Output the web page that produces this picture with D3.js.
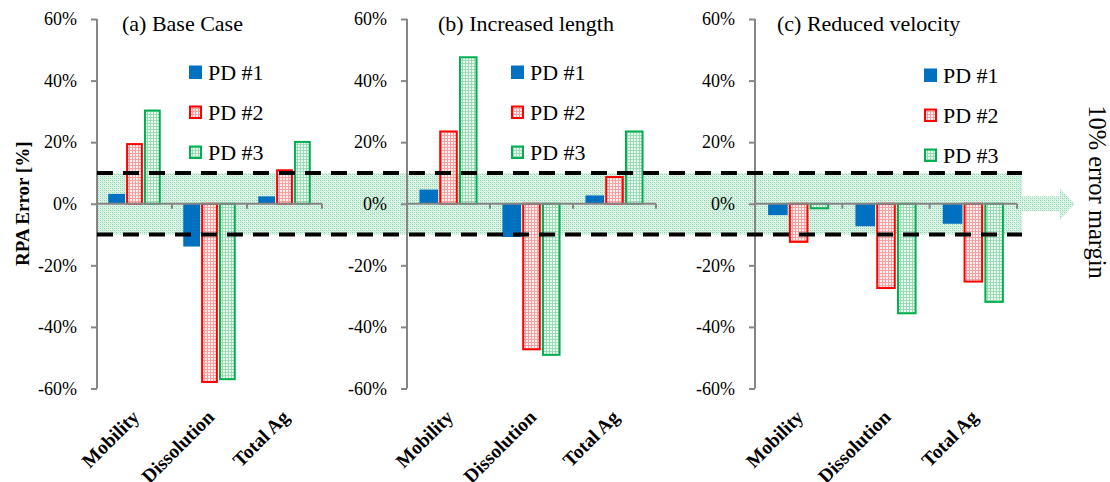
<!DOCTYPE html>
<html>
<head>
<meta charset="utf-8">
<script src="https://cdn.jsdelivr.net/npm/d3@7"></script>
<style>
  html, body { margin: 0; padding: 0; background: #fff; }
  svg { display: block; }
</style>
</head>
<body>
<svg id="chart" width="1110" height="482"></svg>
<script>
// ---- data -------------------------------------------------------------
const categories = ["Mobility", "Dissolution", "Total Ag"];
const seriesNames = ["PD #1", "PD #2", "PD #3"];
const panelTitles = ["(a) Base Case", "(b) Increased length", "(c) Reduced velocity"];

// RPA error [%] per series, in category order
const baseCase = {
  "PD #1": [3.2, -13.9, 2.4],
  "PD #2": [19.7, -58.2, 11.2],
  "PD #3": [30.6, -57.3, 20.4]
};
const increasedLength = {
  "PD #1": [4.6, -10.8, 2.7],
  "PD #2": [23.8, -47.6, 9.0],
  "PD #3": [47.9, -49.4, 23.8]
};
const reducedVelocity = {
  "PD #1": [-3.7, -7.3, -6.5],
  "PD #2": [-12.7, -27.7, -25.6],
  "PD #3": [-1.8, -35.9, -32.2]
};
const yTicks = [-60, -40, -20, 0, 20, 40, 60];
const errorMargin = 10;
const marginLabel = "10% error margin";
const yTitle = "RPA Error [%]";

// ---- layout -----------------------------------------------------------
const SERIF = '"Liberation Serif", "Times New Roman", serif';
const panels = [
  { title: panelTitles[0], data: baseCase,        x0: 97,  x1: 322,  titleX: 122, legendX: 189, legendY: 72 },
  { title: panelTitles[1], data: increasedLength, x0: 407, x1: 656,  titleX: 438, legendX: 511, legendY: 72 },
  { title: panelTitles[2], data: reducedVelocity, x0: 755, x1: 1017, titleX: 777, legendX: 924, legendY: 75 }
];

const svg = d3.select("#chart");
const y = d3.scaleLinear().domain([-60, 60]).range([388.5, 19]);
const axisGrey = "#868686";

const fills = { "PD #1": "#0070C0", "PD #2": "url(#gridRed)", "PD #3": "url(#gridGreen)" };
const strokes = { "PD #1": "none", "PD #2": "#FF0000", "PD #3": "#00B050" };

function label(sel, size, weight) {
  return sel.attr("font-family", SERIF).style("font-family", SERIF)
    .style("font-size", size + "px").style("font-weight", weight || "normal")
    .attr("fill", "#000");
}

// ---- patterns ---------------------------------------------------------
const defs = svg.append("defs");
function gridPattern(id, bg, line) {
  const p = defs.append("pattern").attr("id", id)
    .attr("patternUnits", "userSpaceOnUse").attr("width", 3).attr("height", 3);
  p.append("rect").attr("width", 3).attr("height", 3).attr("fill", bg);
  p.append("rect").attr("width", 3).attr("height", 1).attr("fill", line);
  p.append("rect").attr("width", 1).attr("height", 3).attr("fill", line);
}
gridPattern("gridRed", "#fff1f1", "#f7a0a0");
gridPattern("gridGreen", "#eaf8f0", "#9adbb6");

const dots = defs.append("pattern").attr("id", "bandDots")
  .attr("patternUnits", "userSpaceOnUse").attr("width", 4).attr("height", 4);
dots.append("rect").attr("width", 4).attr("height", 4).attr("fill", "#e0f4e9");
dots.append("rect").attr("width", 1).attr("height", 1).attr("fill", "#86d5aa");
dots.append("rect").attr("x", 2).attr("y", 0).attr("width", 1).attr("height", 1).attr("fill", "#a3dfbf");
dots.append("rect").attr("x", 0).attr("y", 2).attr("width", 1).attr("height", 1).attr("fill", "#a3dfbf");
dots.append("rect").attr("x", 2).attr("y", 2).attr("width", 1).attr("height", 1).attr("fill", "#86d5aa");
dots.append("rect").attr("x", 1).attr("y", 1).attr("width", 1).attr("height", 1).attr("fill", "#c4ead5");
dots.append("rect").attr("x", 3).attr("y", 3).attr("width", 1).attr("height", 1).attr("fill", "#c4ead5");

// ---- error-margin band with arrow -------------------------------------
const bandX0 = 97, bandX1 = 1022;
svg.append("rect")
  .attr("x", bandX0).attr("y", y(errorMargin))
  .attr("width", bandX1 - bandX0).attr("height", y(-errorMargin) - y(errorMargin))
  .attr("fill", "url(#bandDots)");

const y0 = y(0);
const arrow = d3.path();
arrow.moveTo(bandX1, y0 - 7.5);
arrow.lineTo(1060, y0 - 7.5);
arrow.lineTo(1060, y0 - 15.5);
arrow.lineTo(1075, y0);
arrow.lineTo(1060, y0 + 15.5);
arrow.lineTo(1060, y0 + 7.5);
arrow.lineTo(bandX1, y0 + 7.5);
arrow.closePath();
svg.append("path").attr("d", arrow.toString()).attr("fill", "url(#bandDots)");

// ---- panels -----------------------------------------------------------
panels.forEach(p => {
  const g = svg.append("g");
  const x = d3.scaleBand().domain(categories).range([p.x0, p.x1]).padding(0);
  const bw = x.bandwidth();
  const xs = d3.scaleBand().domain(seriesNames).range([bw * 0.15, bw * 0.85]).paddingInner(0.06);

  // bars
  seriesNames.forEach(s => {
    const inset = strokes[s] === "none" ? 0 : 1;
    g.selectAll(null)
      .data(p.data[s].map((v, i) => ({ cat: categories[i], v })))
      .join("rect")
      .attr("x", d => x(d.cat) + xs(s) + inset)
      .attr("width", xs.bandwidth() - 2 * inset)
      .attr("y", d => Math.min(y(d.v), y(0)) + (d.v >= 0 ? inset : 0))
      .attr("height", d => Math.max(0, Math.abs(y(d.v) - y(0)) - inset))
      .attr("fill", fills[s])
      .attr("stroke", strokes[s])
      .attr("stroke-width", 2);
  });

  // y axis
  const yAxis = g.append("g")
    .attr("transform", `translate(${p.x0},0)`)
    .call(d3.axisLeft(y).tickValues(yTicks).tickFormat(d => d + "%").tickSize(6).tickPadding(14));
  yAxis.attr("font-family", SERIF);
  yAxis.select(".domain").attr("stroke", axisGrey).attr("stroke-width", 2)
    .attr("d", `M0,${y(-60)}V${y(60)}`);
  yAxis.selectAll(".tick line").attr("stroke", axisGrey).attr("stroke-width", 2);
  label(yAxis.selectAll(".tick text"), 18);

  // category axis along zero
  const xAxis = g.append("g")
    .attr("transform", `translate(0,${y(0)})`)
    .call(d3.axisBottom(x).tickSize(0).tickFormat(""));
  xAxis.select(".domain").attr("stroke", axisGrey).attr("stroke-width", 2)
    .attr("d", `M${p.x0},0H${p.x1}`);
  xAxis.selectAll(".tick").remove();
  const bounds = categories.map(c => x(c) + bw);
  xAxis.selectAll(".sep").data(bounds).join("line")
    .attr("x1", d => d).attr("x2", d => d).attr("y1", 0).attr("y2", 5)
    .attr("stroke", axisGrey).attr("stroke-width", 2);

  // rotated category labels
  label(g.selectAll(".cat").data(categories).join("text"), 19.5, "bold")
    .attr("transform", d => `translate(${x(d) + bw / 2 + 1},${y(-60) + 25}) rotate(-45)`)
    .attr("text-anchor", "end").attr("dy", "0.35em")
    .text(d => d);

  // panel title
  label(g.append("text"), 22).attr("x", p.titleX).attr("y", 31).text(p.title);

  // legend
  seriesNames.forEach((s, i) => {
    const cy = p.legendY + i * 40;
    const solid = strokes[s] === "none";
    g.append("rect")
      .attr("x", p.legendX + (solid ? 0 : 1))
      .attr("y", cy - 6.5 + (solid ? 0 : 1))
      .attr("width", solid ? 13 : 11)
      .attr("height", solid ? 13.5 : 11.5)
      .attr("fill", fills[s]).attr("stroke", strokes[s]).attr("stroke-width", 2);
    label(g.append("text"), 22).attr("x", p.legendX + 19).attr("y", cy + 7.5).text(s);
  });
});

// ---- error-margin dashed lines ----------------------------------------
[errorMargin, -errorMargin].forEach(v => {
  svg.append("line")
    .attr("x1", bandX0).attr("x2", bandX1)
    .attr("y1", y(v)).attr("y2", y(v))
    .attr("stroke", "#000").attr("stroke-width", 4)
    .attr("stroke-dasharray", "16,10");
});

// ---- axis titles ------------------------------------------------------
label(svg.append("text"), 19, "bold")
  .attr("transform", `translate(29,${y(0)}) rotate(-90)`)
  .attr("text-anchor", "middle")
  .text(yTitle);

label(svg.append("text"), 24.5)
  .attr("transform", `translate(1089,192) rotate(90)`)
  .attr("text-anchor", "middle")
  .text(marginLabel);
</script>
</body>
</html>
